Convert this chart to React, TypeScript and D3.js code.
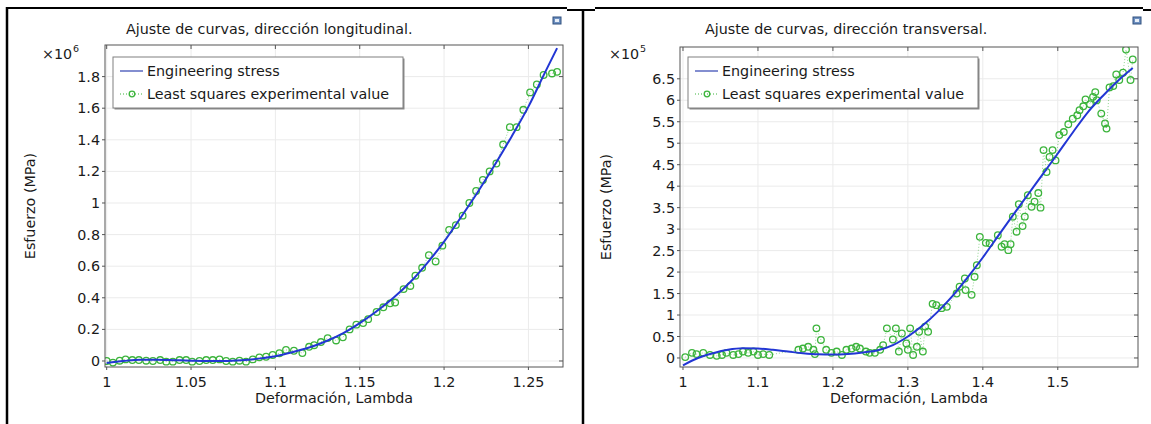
import React from "react";
import * as d3 from "d3";

// ---------- Left chart data (longitudinal) ----------
const lamExpL = [1.0, 1.0037, 1.0077, 1.0112, 1.0152, 1.0191, 1.0234, 1.0274, 1.0317, 1.0353, 1.0392, 1.0432, 1.0471, 1.0507, 1.055, 1.059, 1.0629, 1.0669, 1.0708, 1.0747, 1.0787, 1.0826, 1.0866, 1.0905, 1.0945, 1.0984, 1.1024, 1.1063, 1.111, 1.116, 1.12, 1.123, 1.127, 1.131, 1.136, 1.14, 1.144, 1.148, 1.152, 1.155, 1.16, 1.164, 1.168, 1.171, 1.176, 1.18, 1.183, 1.187, 1.191, 1.195, 1.199, 1.203, 1.207, 1.211, 1.215, 1.219, 1.223, 1.227, 1.231, 1.235, 1.239, 1.243, 1.247, 1.251, 1.255, 1.259, 1.264, 1.267];
const expL = [0.0, -0.01, 0.002, 0.01, 0.006, 0.006, 0.002, 0.0, 0.006, -0.004, -0.004, 0.006, 0.006, -0.004, 0.0, 0.006, 0.006, 0.01, 0.0, -0.004, 0.002, -0.004, 0.01, 0.023, 0.027, 0.038, 0.049, 0.07, 0.065, 0.05, 0.09, 0.1, 0.12, 0.145, 0.13, 0.15, 0.2, 0.23, 0.24, 0.265, 0.31, 0.34, 0.365, 0.37, 0.455, 0.475, 0.54, 0.59, 0.67, 0.63, 0.73, 0.83, 0.86, 0.92, 1.0, 1.076, 1.146, 1.2, 1.25, 1.37, 1.48, 1.48, 1.59, 1.7, 1.75, 1.81, 1.82, 1.83];
const lamFitL = [1.0, 1.01, 1.02, 1.03, 1.04, 1.05, 1.06, 1.07, 1.08, 1.09, 1.1, 1.11, 1.12, 1.13, 1.14, 1.15, 1.16, 1.17, 1.18, 1.19, 1.2, 1.21, 1.22, 1.23, 1.24, 1.25, 1.26, 1.267];
const fitL = [-0.012, 0.0, 0.008, 0.008, 0.005, 0.002, 0.0, 0.0, 0.005, 0.015, 0.03, 0.055, 0.085, 0.125, 0.175, 0.24, 0.315, 0.40, 0.50, 0.62, 0.755, 0.91, 1.07, 1.24, 1.42, 1.61, 1.83, 1.98];
const xTicksL = [1, 1.05, 1.1, 1.15, 1.2, 1.25];
const xTickLabelsL = ["1", "1.05", "1.1", "1.15", "1.2", "1.25"];
const yTicksL = [0, 0.2, 0.4, 0.6, 0.8, 1.0, 1.2, 1.4, 1.6, 1.8];
const yTickLabelsL = ["0", "0.2", "0.4", "0.6", "0.8", "1", "1.2", "1.4", "1.6", "1.8"];

// ---------- Right chart data (transversal) ----------
const lamExpR = [1.003, 1.012, 1.018, 1.027, 1.036, 1.045, 1.052, 1.058, 1.067, 1.074, 1.08, 1.087, 1.094, 1.1, 1.107, 1.115, 1.154, 1.16, 1.167, 1.174, 1.176, 1.178, 1.184, 1.191, 1.198, 1.205, 1.212, 1.218, 1.225, 1.231, 1.236, 1.244, 1.249, 1.256, 1.263, 1.267, 1.272, 1.28, 1.284, 1.288, 1.292, 1.298, 1.3, 1.303, 1.307, 1.312, 1.315, 1.32, 1.323, 1.327, 1.333, 1.338, 1.345, 1.352, 1.365, 1.369, 1.376, 1.377, 1.385, 1.389, 1.392, 1.396, 1.404, 1.409, 1.42, 1.425, 1.429, 1.434, 1.437, 1.44, 1.445, 1.448, 1.453, 1.456, 1.46, 1.465, 1.469, 1.474, 1.477, 1.481, 1.485, 1.489, 1.493, 1.497, 1.502, 1.508, 1.514, 1.52, 1.526, 1.529, 1.534, 1.537, 1.543, 1.547, 1.55, 1.552, 1.558, 1.563, 1.565, 1.569, 1.574, 1.578, 1.582, 1.587, 1.591, 1.597, 1.6];
const expR = [0.02, 0.12, 0.09, 0.12, 0.07, 0.05, 0.07, 0.12, 0.07, 0.09, 0.15, 0.12, 0.15, 0.07, 0.09, 0.07, 0.19, 0.22, 0.26, 0.19, 0.09, 0.69, 0.42, 0.19, 0.12, 0.15, 0.07, 0.19, 0.22, 0.26, 0.22, 0.15, 0.12, 0.12, 0.19, 0.3, 0.69, 0.43, 0.69, 0.15, 0.57, 0.34, 0.19, 0.69, 0.07, 0.26, 0.61, 0.15, 0.73, 0.61, 1.26, 1.23, 1.16, 1.19, 1.5, 1.66, 1.85, 1.58, 1.47, 1.89, 2.16, 2.82, 2.68, 2.67, 2.86, 2.59, 2.65, 2.51, 2.65, 3.29, 2.94, 3.58, 3.07, 3.29, 3.79, 3.52, 3.64, 3.84, 3.5, 4.84, 4.33, 4.68, 4.84, 4.6, 5.19, 5.26, 5.44, 5.57, 5.65, 5.77, 5.86, 6.02, 5.91, 6.08, 6.19, 6.0, 5.69, 5.46, 5.34, 6.3, 6.33, 6.6, 6.47, 6.64, 7.18, 6.47, 6.95];
const lamFitR = [1.0, 1.02, 1.04, 1.06, 1.08, 1.1, 1.12, 1.14, 1.16, 1.18, 1.2, 1.22, 1.24, 1.26, 1.28, 1.3, 1.32, 1.34, 1.36, 1.38, 1.4, 1.42, 1.44, 1.46, 1.48, 1.5, 1.52, 1.54, 1.56, 1.58, 1.6];
const fitR = [-0.17, 0.0, 0.11, 0.19, 0.225, 0.22, 0.19, 0.15, 0.11, 0.085, 0.08, 0.095, 0.13, 0.18, 0.3, 0.5, 0.76, 1.08, 1.45, 1.88, 2.34, 2.83, 3.32, 3.8, 4.28, 4.76, 5.25, 5.72, 6.1, 6.45, 6.75];
const xTicksR = [1, 1.1, 1.2, 1.3, 1.4, 1.5];
const xTickLabelsR = ["1", "1.1", "1.2", "1.3", "1.4", "1.5"];
const yTicksR = [0, 0.5, 1, 1.5, 2, 2.5, 3, 3.5, 4, 4.5, 5, 5.5, 6, 6.5];
const yTickLabelsR = ["0", "0.5", "1", "1.5", "2", "2.5", "3", "3.5", "4", "4.5", "5", "5.5", "6", "6.5"];

const FONT = "DejaVu Sans, Verdana, sans-serif";
const BLUE = "#2236d4";
const GREEN = "#3cb43c";
const TEXT = "#1a1a1a";
const FS = 14.3;

type ChartProps = {
  id: string;
  px0: number; px1: number; py0: number; py1: number;
  xDomain: [number, number]; yDomain: [number, number];
  lamExp: number[]; exp: number[]; lamFit: number[]; fit: number[];
  xTicks: number[]; xLabels: string[]; yTicks: number[]; yLabels: string[];
  title: string; titleX: number; expo: string; expoX: number; yLabelX: number;
  iconX: number;
};

function Chart(p: ChartProps) {
  const x = d3.scaleLinear().domain(p.xDomain).range([p.px0, p.px1]);
  const y = d3.scaleLinear().domain(p.yDomain).range([p.py1, p.py0]);
  const fitLine = d3.line<number>().x((_, i) => x(p.lamFit[i])).y((d) => y(d)).curve(d3.curveMonotoneX);
  const expLine = d3.line<number>().x((_, i) => x(p.lamExp[i])).y((d) => y(d));
  const cx = (p.px0 + p.px1) / 2;
  const cy = (p.py0 + p.py1) / 2;
  const lx = p.px0 + 8;
  const ly = 57;
  return (
    <g fontFamily={FONT} fill={TEXT}>
      <defs>
        <clipPath id={p.id + "clip"}>
          <rect x={p.px0} y={p.py0} width={p.px1 - p.px0} height={p.py1 - p.py0} />
        </clipPath>
      </defs>
      <text x={p.titleX} y={34} fontSize={FS}>{p.title}</text>
      {/* icon */}
      <rect x={p.iconX} y={17} width={8} height={7} fill="#6d8fc0" stroke="#30507f" strokeWidth={1} />
      <rect x={p.iconX + 2} y={19} width={4} height={3} fill="#e6eef8" />
      <rect x={p.px0} y={p.py0} width={p.px1 - p.px0} height={p.py1 - p.py0} fill="#fff" />
      {/* grid */}
      {p.xTicks.map((t, i) => (
        <line key={"gx" + i} x1={x(t)} x2={x(t)} y1={p.py0} y2={p.py1} stroke="#ebebeb" strokeWidth={1} />
      ))}
      {p.yTicks.map((t, i) => (
        <line key={"gy" + i} x1={p.px0} x2={p.px1} y1={y(t)} y2={y(t)} stroke="#ebebeb" strokeWidth={1} />
      ))}
      {/* data */}
      <g clipPath={`url(#${p.id}clip)`}>
        <path d={expLine(p.exp) || ""} fill="none" stroke={GREEN} strokeWidth={0.8} strokeDasharray="1,2" opacity={0.7} />
        {p.exp.map((v, i) => (
          <circle key={"c" + i} cx={x(p.lamExp[i])} cy={y(v)} r={3.3} fill="none" stroke={GREEN} strokeWidth={1.3} />
        ))}
        <path d={fitLine(p.fit) || ""} fill="none" stroke={BLUE} strokeWidth={2} />
      </g>
      {/* frame */}
      <rect x={p.px0} y={p.py0} width={p.px1 - p.px0} height={p.py1 - p.py0} fill="none" stroke="#555" strokeWidth={1} />
      {/* ticks */}
      {p.xTicks.map((t, i) => (
        <g key={"xt" + i}>
          <line x1={x(t)} x2={x(t)} y1={p.py1} y2={p.py1 + 3} stroke="#555" />
          <line x1={x(t)} x2={x(t)} y1={p.py0} y2={p.py0 + 4} stroke="#555" />
          <text x={x(t)} y={387} fontSize={FS} textAnchor="middle">{p.xLabels[i]}</text>
        </g>
      ))}
      {p.yTicks.map((t, i) => (
        <g key={"yt" + i}>
          <line x1={p.px0 - 3} x2={p.px0} y1={y(t)} y2={y(t)} stroke="#555" />
          <line x1={p.px1 - 4} x2={p.px1} y1={y(t)} y2={y(t)} stroke="#555" />
          <text x={p.px0 - 5} y={y(t) + 5} fontSize={FS} textAnchor="end">{p.yLabels[i]}</text>
        </g>
      ))}
      <text x={p.expoX} y={59} fontSize={FS}>×10</text>
      <text x={p.expoX + 31} y={52} fontSize={9.5}>{p.expo}</text>
      <text x={cx} y={403} fontSize={FS} textAnchor="middle">Deformación, Lambda</text>
      <text transform={`translate(${p.yLabelX},${cy}) rotate(-90)`} fontSize={FS} textAnchor="middle">Esfuerzo (MPa)</text>
      {/* legend */}
      <rect x={lx + 1.5} y={ly + 1.5} width={290} height={51} fill="#8a8a8a" />
      <rect x={lx} y={ly} width={290} height={51} fill="#fff" stroke="#808080" strokeWidth={1} />
      <line x1={lx + 7} x2={lx + 30} y1={ly + 14} y2={ly + 14} stroke="#5a68c0" strokeWidth={1.5} />
      <text x={lx + 34} y={ly + 19} fontSize={FS}>Engineering stress</text>
      <line x1={lx + 7} x2={lx + 30} y1={ly + 37} y2={ly + 37} stroke={GREEN} strokeWidth={1} strokeDasharray="1,2" />
      <circle cx={lx + 19} cy={ly + 37} r={2.8} fill="none" stroke={GREEN} strokeWidth={1.3} />
      <text x={lx + 34} y={ly + 42} fontSize={FS}>Least squares experimental value</text>
    </g>
  );
}

export default function App() {
  return (
    <svg width={1151} height={424} style={{ position: "absolute", left: 0, top: 0, background: "#fff" }}>
      <rect x={0} y={0} width={1151} height={424} fill="#fff" />
      {/* table borders */}
      <line x1={7} x2={567} y1={8} y2={8} stroke="#000" strokeWidth={2} />
      <line x1={567} x2={595} y1={10} y2={10} stroke="#000" strokeWidth={2} />
      <line x1={595} x2={1143} y1={8} y2={8} stroke="#000" strokeWidth={2} />
      <line x1={1143} x2={1151} y1={10} y2={10} stroke="#000" strokeWidth={2} />
      <line x1={7} x2={7} y1={7} y2={424} stroke="#000" strokeWidth={2.5} />
      <line x1={583} x2={583} y1={9} y2={424} stroke="#000" strokeWidth={2.5} />
      <Chart id="L" px0={105} px1={563} py0={45} py1={367} xDomain={[0.999, 1.2705]} yDomain={[-0.038, 2.0]}
        lamExp={lamExpL} exp={expL} lamFit={lamFitL} fit={fitL}
        xTicks={xTicksL} xLabels={xTickLabelsL} yTicks={yTicksL} yLabels={yTickLabelsL}
        title="Ajuste de curvas, dirección longitudinal." titleX={126} expo="6" expoX={42} yLabelX={35} iconX={553} />
      <Chart id="R" px0={680} px1={1138} py0={47} py1={367} xDomain={[0.996, 1.607]} yDomain={[-0.21, 7.24]}
        lamExp={lamExpR} exp={expR} lamFit={lamFitR} fit={fitR}
        xTicks={xTicksR} xLabels={xTickLabelsR} yTicks={yTicksR} yLabels={yTickLabelsR}
        title="Ajuste de curvas, dirección transversal." titleX={705} expo="5" expoX={609} yLabelX={611} iconX={1133} />
    </svg>
  );
}
